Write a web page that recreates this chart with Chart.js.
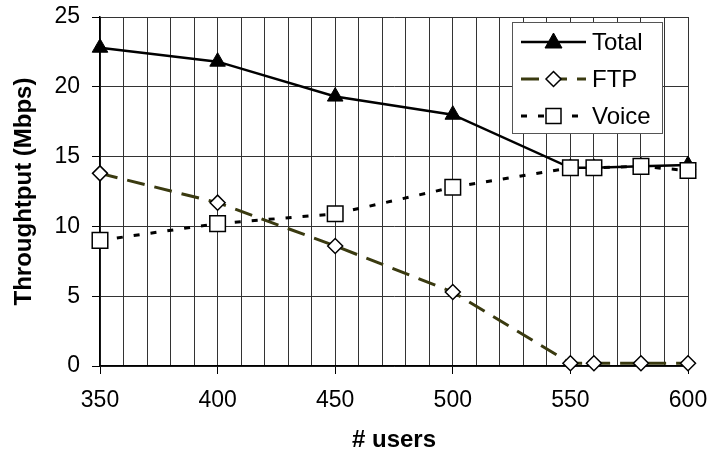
<!DOCTYPE html>
<html>
<head>
<meta charset="utf-8">
<script src="https://cdn.jsdelivr.net/npm/chart.js@4.4.0/dist/chart.umd.min.js"></script>
<style>
  body { margin: 0; background: #fff; }
  #wrap { width: 712px; height: 455px; }
</style>
</head>
<body>
<div id="wrap"><canvas id="chart" width="712" height="455"></canvas></div>
<script>
// values
const users = [350, 400, 450, 500, 550, 560, 580, 600];
const totalMbps = [22.8, 21.8, 19.3, 18.0, 14.2, 14.2, 14.3, 14.4];
const ftpMbps = [13.8, 11.7, 8.6, 5.3, 0.2, 0.2, 0.2, 0.2];
const voiceMbps = [9.0, 10.2, 10.9, 12.8, 14.2, 14.2, 14.3, 14.0];
const seriesNames = ['Total', 'FTP', 'Voice'];

const FONT = "'Liberation Sans', Arial, sans-serif";

function toPoints(values) {
  return users.map((u, i) => ({ x: u, y: values[i] }));
}

// legend sits inside the plot, top right, with a border
const boxLegend = {
  id: 'boxLegend',
  afterDraw(chart) {
    const ctx = chart.ctx;
    const area = chart.chartArea;
    const left = area.right - 176, top = area.top + 5;
    const w = 150, h = 111;
    ctx.save();
    ctx.fillStyle = '#fff';
    ctx.fillRect(left, top, w, h);
    ctx.strokeStyle = '#555';
    ctx.lineWidth = 1;
    ctx.strokeRect(left + 0.5, top + 0.5, w, h);

    chart.data.datasets.forEach((ds, i) => {
      const y = top + 20 + i * 37;
      const x0 = left + 9, x1 = left + 74, xm = (x0 + x1) / 2;
      ctx.save();
      ctx.strokeStyle = ds.borderColor;
      ctx.lineWidth = ds.borderWidth;
      ctx.setLineDash(ds.borderDash || []);
      ctx.beginPath();
      ctx.moveTo(x0, y);
      ctx.lineTo(x1, y);
      ctx.stroke();
      ctx.restore();

      ctx.save();
      ctx.fillStyle = ds.pointBackgroundColor;
      ctx.strokeStyle = ds.pointBorderColor;
      ctx.lineWidth = ds.pointBorderWidth;
      ctx.beginPath();
      if (ds.pointStyle === 'triangle') {
        ctx.moveTo(xm, y - 9);
        ctx.lineTo(xm + 8.5, y + 6);
        ctx.lineTo(xm - 8.5, y + 6);
      } else if (ds.pointStyle === 'rectRot') {
        ctx.moveTo(xm, y - 7.5);
        ctx.lineTo(xm + 7.5, y);
        ctx.lineTo(xm, y + 7.5);
        ctx.lineTo(xm - 7.5, y);
      } else {
        ctx.rect(xm - 7.5, y - 7.5, 15, 15);
      }
      ctx.closePath();
      ctx.fill();
      ctx.stroke();
      ctx.restore();

      ctx.fillStyle = '#000';
      ctx.font = '24px ' + FONT;
      ctx.textBaseline = 'middle';
      ctx.textAlign = 'left';
      ctx.fillText(ds.label, left + 80, y + 1);
    });
    ctx.restore();
  }
};

new Chart(document.getElementById('chart'), {
  type: 'line',
  data: {
    datasets: [
      {
        label: seriesNames[0],
        data: toPoints(totalMbps),
        borderColor: '#000',
        borderWidth: 2.5,
        pointStyle: 'triangle',
        pointRadius: 9,
        pointBackgroundColor: '#000',
        pointBorderColor: '#000',
        pointBorderWidth: 1,
        clip: false,
        order: 3
      },
      {
        label: seriesNames[1],
        data: toPoints(ftpMbps),
        borderColor: '#3a3a10',
        borderWidth: 3,
        borderDash: [18, 10],
        pointStyle: 'rectRot',
        pointRadius: 7.5,
        pointBackgroundColor: '#fff',
        pointBorderColor: '#000',
        pointBorderWidth: 1.5,
        clip: false,
        order: 2
      },
      {
        label: seriesNames[2],
        data: toPoints(voiceMbps),
        borderColor: '#000',
        borderWidth: 3,
        borderDash: [6, 11],
        pointStyle: 'rect',
        pointRadius: 11,
        pointBackgroundColor: '#fff',
        pointBorderColor: '#000',
        pointBorderWidth: 1.5,
        clip: false,
        order: 1
      }
    ]
  },
  options: {
    responsive: false,
    animation: false,
    layout: { padding: { top: 17, right: 24, left: 0, bottom: 0 } },
    plugins: {
      legend: { display: false },
      tooltip: { enabled: false }
    },
    elements: { line: { tension: 0 } },
    scales: {
      x: {
        type: 'linear',
        min: 350,
        max: 600,
        ticks: {
          stepSize: 10,
          autoSkip: false,
          maxRotation: 0,
          padding: 13,
          color: '#000',
          font: { family: FONT, size: 23 },
          callback: v => (v % 50 === 0 ? v : '')
        },
        grid: {
          color: '#333',
          lineWidth: 1,
          tickLength: 8,
          tickColor: ctx => (ctx.tick && ctx.tick.value % 50 === 0 ? '#000' : 'rgba(0,0,0,0)')
        },
        border: { color: '#000', width: 1.5 },
        title: {
          display: true,
          text: '# users',
          color: '#000',
          font: { family: FONT, size: 24, weight: 'bold' },
          padding: { top: 0, bottom: 0 }
        },
        afterFit: s => { s.height = 89; s.paddingLeft = 0; s.paddingRight = 0; }
      },
      y: {
        min: 0,
        max: 25,
        ticks: {
          stepSize: 5,
          padding: 12,
          color: '#000',
          font: { family: FONT, size: 23 }
        },
        grid: { color: '#333', lineWidth: 1, tickLength: 8, tickColor: '#000' },
        border: { color: '#000', width: 1.5 },
        title: {
          display: true,
          text: 'Throughtput (Mbps)',
          color: '#000',
          font: { family: FONT, size: 24, weight: 'bold' },
          padding: { top: 10, bottom: 0 }
        },
        afterFit: s => { s.width = 100; s.paddingTop = 0; s.paddingBottom = 0; }
      }
    }
  },
  plugins: [boxLegend]
});
</script>
</body>
</html>
